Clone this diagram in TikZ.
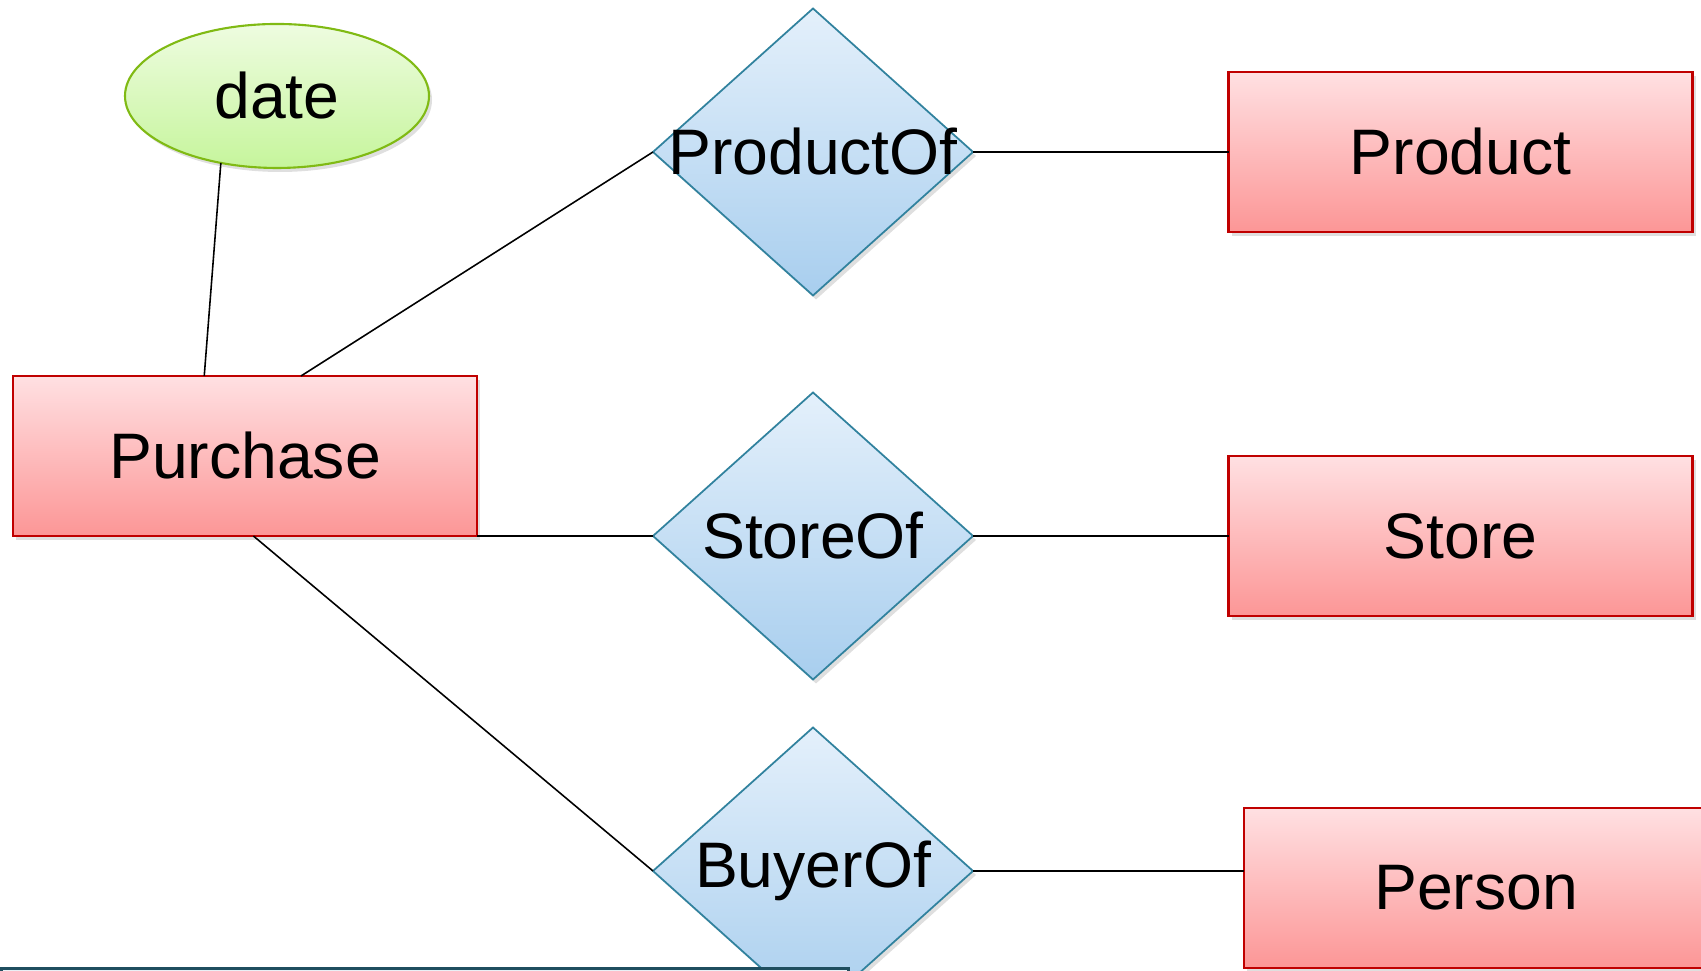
\documentclass[tikz,border=0pt]{standalone}
\usepackage{fontspec}
\setmainfont{Liberation Sans}
\usetikzlibrary{shapes.geometric,shadows}
\definecolor{centtop}{RGB}{255,224,226}
\definecolor{centbot}{RGB}{252,150,150}
\definecolor{centline}{RGB}{192,0,0}
\definecolor{creltop}{RGB}{228,240,251}
\definecolor{crelbot}{RGB}{168,206,238}
\definecolor{crelline}{RGB}{49,130,158}
\definecolor{cattrtop}{RGB}{238,252,224}
\definecolor{cattrbot}{RGB}{198,245,156}
\definecolor{cattrline}{RGB}{128,186,20}
\definecolor{cnote}{RGB}{232,240,245}
\definecolor{cnoteline}{RGB}{31,78,95}

\begin{document}
\begin{tikzpicture}[font=\fontsize{18.3}{22}\selectfont,
  shade/.style={drop shadow={shadow xshift=0.03cm,shadow yshift=-0.04cm,opacity=0.25}},
  entity/.style={rectangle,draw=centline,line width=0.6pt,top color=centtop,bottom color=centbot,
     minimum width=4.64cm,minimum height=1.6cm,inner sep=0pt,outer sep=0pt,shade},
  relation/.style={diamond,draw=crelline,line width=0.5pt,top color=creltop,bottom color=crelbot,
     minimum width=3.2cm,minimum height=2.87cm,inner sep=0pt,outer sep=0pt,shade},
  attr/.style={ellipse,draw=cattrline,line width=0.6pt,top color=cattrtop,bottom color=cattrbot,
     minimum width=3.04cm,minimum height=1.44cm,inner sep=0pt,outer sep=0pt,shade},
  link/.style={draw=black,line width=0.45pt}]
  \useasboundingbox (0,0) rectangle (17.01,9.71);
  \clip (0,0) rectangle (17.01,9.71);
  % entities
  \node[entity] (purchase) at (2.45,5.15) {Purchase};
  \node[entity] (product) at (14.605,8.19) {Product};
  \node[entity] (store) at (14.605,4.35) {Store};
  \node[entity] (person) at (14.76,0.83) {Person};
  % relationships (label laid over the diamond)
  \node[relation,label={center:ProductOf}] (productof) at (8.13,8.19) {};
  \node[relation,label={center:StoreOf}] (storeof) at (8.13,4.35) {};
  \node[relation,label={center:BuyerOf}] (buyerof) at (8.13,1.0) {};
  % attribute
  \node[attr] (date) at (2.77,8.75) {date};
  % box cut off at the bottom
  \node[rectangle,draw=cnoteline,line width=0.8pt,fill=cnote,anchor=north west,
     minimum width=8.47cm,minimum height=1cm] (note) at (0,0.04) {};
  % links
  \draw[link] (date.230) -- (purchase.117);
  \draw[link] (purchase.55.5) -- (productof.west);
  \draw[link] (purchase.south east) -- (storeof.west);
  \draw[link] (purchase.-84) -- (buyerof.west);
  \draw[link] (productof.east) -- (product.west);
  \draw[link] (storeof.east) -- (store.west);
  \draw[link] (buyerof.east) -- (buyerof.east -| person.west);
\end{tikzpicture}
\end{document}
